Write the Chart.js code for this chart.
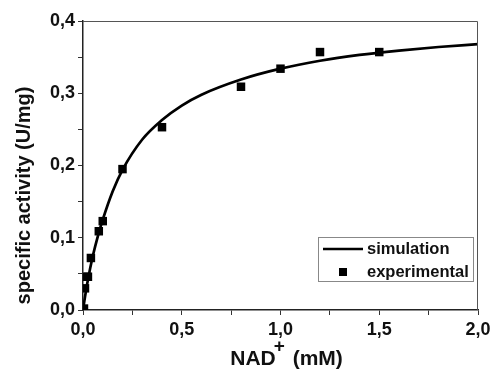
<!DOCTYPE html>
<html>
<head>
<meta charset="utf-8">
<script src="https://cdn.jsdelivr.net/npm/chart.js@4/dist/chart.umd.min.js"></script>
<style>
  html, body { margin: 0; padding: 0; background: #fff; }
  #wrap { width: 492px; height: 369px; }
</style>
</head>
<body>
<div id="wrap"><canvas id="kinChart"></canvas></div>
<script>
// NAD+ concentration (mM) and measured specific activity (U/mg)
const expNad = [0.005, 0.01, 0.02, 0.025, 0.04, 0.08, 0.1, 0.2, 0.4, 0.8, 1.0, 1.2, 1.5];
const expAct = [0.002, 0.030, 0.046, 0.046, 0.072, 0.109, 0.123, 0.195, 0.253, 0.309, 0.334, 0.357, 0.357];

// simulated curve
const simNad = [0, 0.01, 0.025, 0.05, 0.075, 0.1, 0.15, 0.2, 0.3, 0.4, 0.5, 0.6, 0.8, 1.0, 1.2, 1.4, 1.6, 1.8, 2.0];
const simAct = [0, 0.018, 0.042, 0.075, 0.102, 0.125, 0.164, 0.194, 0.236, 0.263, 0.283, 0.298, 0.319, 0.334, 0.345, 0.353, 0.359, 0.364, 0.368];

const xTicks = [0, 0.5, 1.0, 1.5, 2.0];
const yTicks = [0, 0.1, 0.2, 0.3, 0.4];

const FONT = "'Liberation Sans', Arial, Helvetica, sans-serif";

function comma(v) {
    return v.toFixed(1).replace('.', ',');
}

function isMajor(v, list) {
    return list.some(t => Math.abs(t - v) < 1e-6);
}

// frame, axis titles and the boxed legend
const decorations = {
    id: 'decorations',
    afterDatasetsDraw(chart) {
        const ctx = chart.ctx;
        const a = chart.chartArea;
        ctx.save();

        // top / right frame
        ctx.strokeStyle = '#555';
        ctx.lineWidth = 1;
        ctx.beginPath();
        ctx.moveTo(a.left, a.top + 0.5);
        ctx.lineTo(a.right - 0.5, a.top + 0.5);
        ctx.lineTo(a.right - 0.5, a.bottom);
        ctx.stroke();

        ctx.fillStyle = '#111';

        // y title
        ctx.save();
        ctx.translate(24, a.top + (a.bottom - a.top) / 2 + 30);
        ctx.rotate(-Math.PI / 2);
        ctx.font = 'bold 20px ' + FONT;
        ctx.textAlign = 'center';
        ctx.textBaseline = 'middle';
        ctx.fillText('specific activity (U/mg)', 0, 0);
        ctx.restore();

        // x title with superscript
        ctx.font = 'bold 21px ' + FONT;
        const w1 = ctx.measureText('NAD').width;
        const w3 = ctx.measureText(' (mM)').width;
        ctx.font = 'bold 19px ' + FONT;
        const w2 = ctx.measureText('+').width;
        const total = w1 + w2 + w3;
        let x0 = (a.left + a.right) / 2 + 6 - total / 2;
        const base = 365;
        ctx.textAlign = 'left';
        ctx.textBaseline = 'alphabetic';
        ctx.font = 'bold 21px ' + FONT;
        ctx.fillText('NAD', x0, base);
        ctx.font = 'bold 19px ' + FONT;
        ctx.fillText('+', x0 + w1 - 2, base - 13);
        ctx.font = 'bold 21px ' + FONT;
        ctx.fillText(' (mM)', x0 + w1 + w2, base);

        // legend box
        const bx = a.right - 160, by = a.bottom - 73, bw = 155, bh = 44;
        ctx.strokeStyle = '#888';
        ctx.lineWidth = 1;
        ctx.strokeRect(bx + 0.5, by + 0.5, bw, bh);

        const sim = chart.data.datasets[0];
        const exp = chart.data.datasets[1];
        ctx.strokeStyle = sim.borderColor;
        ctx.lineWidth = sim.borderWidth;
        ctx.beginPath();
        ctx.moveTo(bx + 5, by + 12);
        ctx.lineTo(bx + 45, by + 12);
        ctx.stroke();
        ctx.fillStyle = exp.backgroundColor;
        ctx.fillRect(bx + 21, by + 31, 8, 8);

        ctx.fillStyle = '#111';
        ctx.font = 'bold 16.5px ' + FONT;
        ctx.textBaseline = 'middle';
        ctx.fillText(sim.label, bx + 49, by + 12);
        ctx.fillText(exp.label, bx + 49, by + 35);

        ctx.restore();
    }
};

const ctx = document.getElementById('kinChart');

new Chart(ctx, {
    type: 'scatter',
    data: {
        datasets: [{
            label: 'simulation',
            type: 'line',
            data: simNad.map((x, i) => ({ x: x, y: simAct[i] })),
            borderColor: '#000',
            borderWidth: 2.7,
            pointRadius: 0,
            fill: false,
            cubicInterpolationMode: 'monotone',
            order: 2
        }, {
            label: 'experimental',
            data: expNad.map((x, i) => ({ x: x, y: expAct[i] })),
            backgroundColor: '#000',
            borderWidth: 0,
            pointStyle: 'rect',
            pointRadius: 6,
            order: 1
        }]
    },
    options: {
        responsive: true,
        maintainAspectRatio: false,
        animation: false,
        layout: {
            padding: { top: 21, right: 14, left: 0, bottom: 0 }
        },
        plugins: {
            legend: { display: false },
            tooltip: { enabled: false }
        },
        scales: {
            x: {
                type: 'linear',
                min: 0,
                max: 2,
                afterBuildTicks: s => {
                    s.ticks = [0, 0.25, 0.5, 0.75, 1, 1.25, 1.5, 1.75, 2].map(v => ({ value: v }));
                },
                afterFit: s => {
                    s.height = 59;
                    s.paddingLeft = 0;
                    s.paddingRight = 0;
                },
                ticks: {
                    autoSkip: false,
                    maxRotation: 0,
                    padding: 4,
                    color: '#111',
                    font: { family: FONT, size: 18, weight: 'bold' },
                    callback: v => isMajor(v, xTicks) ? comma(v) : ''
                },
                grid: {
                    drawOnChartArea: false,
                    drawTicks: true,
                    tickLength: 5,
                    tickColor: '#333',
                    tickWidth: 1
                },
                border: { display: true, color: '#222', width: 1.5 }
            },
            y: {
                min: 0,
                max: 0.4,
                afterBuildTicks: s => {
                    s.ticks = [0, 0.05, 0.1, 0.15, 0.2, 0.25, 0.3, 0.35, 0.4].map(v => ({ value: v }));
                },
                afterFit: s => {
                    s.width = 83;
                    s.paddingTop = 0;
                    s.paddingBottom = 0;
                },
                ticks: {
                    autoSkip: false,
                    padding: 3,
                    color: '#111',
                    font: { family: FONT, size: 18, weight: 'bold' },
                    callback: v => isMajor(v, yTicks) ? comma(v) : ''
                },
                grid: {
                    drawOnChartArea: false,
                    drawTicks: true,
                    tickLength: 5,
                    tickColor: '#333',
                    tickWidth: 1
                },
                border: { display: true, color: '#222', width: 1.5 }
            }
        }
    },
    plugins: [decorations]
});
</script>
</body>
</html>
